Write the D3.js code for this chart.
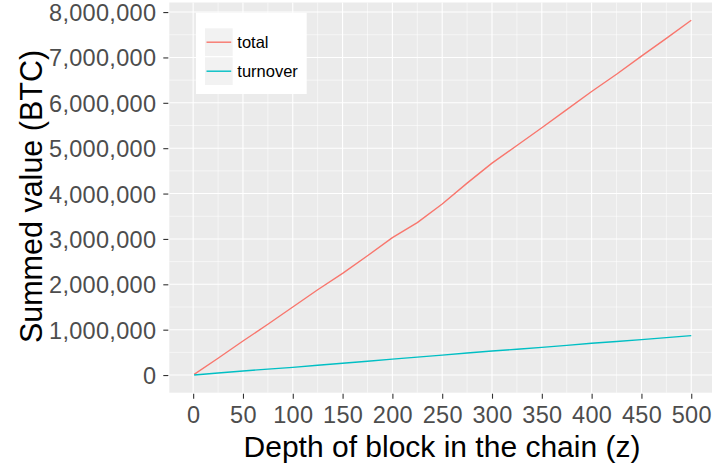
<!DOCTYPE html>
<html><head><meta charset="utf-8">
<script src="https://cdn.jsdelivr.net/npm/d3@7"></script>
<style>body{margin:0;background:#fff}svg{display:block}text{font-family:"Liberation Sans",Arial,sans-serif}</style>
</head><body><svg id="c" width="712" height="466"></svg>
<script>
const depth = [1,25,50,75,100,125,150,175,200,225,250,275,300,325,350,375,400,425,450,475,500];
const totalValues = [15000,370000,750000,1120000,1500000,1880000,2240000,2630000,3030000,3360000,3770000,4230000,4670000,5060000,5450000,5850000,6250000,6630000,7030000,7420000,7820000];
const turnoverValues = [2000,45000,90000,130000,170000,215000,260000,305000,350000,395000,440000,485000,530000,570000,610000,655000,700000,740000,780000,825000,870000];
const seriesNames = ["total","turnover"];
const seriesColors = ["#F8766D","#00BFC4"];
const xTicks = [0,50,100,150,200,250,300,350,400,450,500];
const yTicks = [0,1000000,2000000,3000000,4000000,5000000,6000000,7000000,8000000];
const xTitle = "Depth of block in the chain (z)";
const yTitle = "Summed value (BTC)";

const svg = d3.select("#c");
const P = {left:169.3, right:716.1, top:2.5, bottom:392.7};
const xmin = d3.min(depth), xmax = d3.max(depth);
const allY = totalValues.concat(turnoverValues);
const ymin = d3.min(allY), ymax = d3.max(allY);
const xr = xmax - xmin, yr = ymax - ymin;
const x = d3.scaleLinear().domain([xmin-0.05*xr, xmax+0.05*xr]).range([P.left,P.right]);
const y = d3.scaleLinear().domain([ymin-0.05*yr, ymax+0.05*yr]).range([P.bottom,P.top]);

svg.append("rect").attr("x",P.left).attr("y",P.top).attr("width",P.right-P.left).attr("height",P.bottom-P.top).attr("fill","#EBEBEB");
const g = svg.append("g");
const xMinor = d3.range(-25, 550, 50).filter(v=>x(v)>=P.left&&x(v)<=P.right);
const yMinor = d3.range(-500000, 9000000, 1000000).filter(v=>y(v)>=P.top&&y(v)<=P.bottom);
g.selectAll(".xm").data(xMinor).join("line").attr("x1",d=>x(d)).attr("x2",d=>x(d)).attr("y1",P.top).attr("y2",P.bottom).attr("stroke","#fff").attr("stroke-width",0.55);
g.selectAll(".ym").data(yMinor).join("line").attr("y1",d=>y(d)).attr("y2",d=>y(d)).attr("x1",P.left).attr("x2",P.right).attr("stroke","#fff").attr("stroke-width",0.55);
g.selectAll(".xM").data(xTicks).join("line").attr("x1",d=>x(d)).attr("x2",d=>x(d)).attr("y1",P.top).attr("y2",P.bottom).attr("stroke","#fff").attr("stroke-width",1.1);
g.selectAll(".yM").data(yTicks).join("line").attr("y1",d=>y(d)).attr("y2",d=>y(d)).attr("x1",P.left).attr("x2",P.right).attr("stroke","#fff").attr("stroke-width",1.1);

const series = [totalValues, turnoverValues];
const line = d3.line().x((d,i)=>x(depth[i])).y(d=>y(d));
series.forEach((s,k)=>{
  svg.append("path").datum(s).attr("d",line).attr("fill","none").attr("stroke",seriesColors[k]).attr("stroke-width",1.4).attr("stroke-linejoin","round");
});

const fmt = d3.format(",");
const yAxis = d3.axisLeft(y).tickValues(yTicks).tickFormat(fmt).tickSize(5).tickPadding(7);
const ya = svg.append("g").attr("transform",`translate(${P.left-1},0)`).call(yAxis);
const xAxis = d3.axisBottom(x).tickValues(xTicks).tickSize(5).tickPadding(8);
const xa = svg.append("g").attr("transform",`translate(0,${P.bottom+1})`).call(xAxis);
[ya,xa].forEach(a=>{
  a.select(".domain").remove();
  a.selectAll(".tick line").attr("stroke","#333").attr("stroke-width",1.1);
  a.selectAll(".tick text").attr("fill","#4D4D4D").attr("font-size","23.5px").attr("letter-spacing","0.3px").attr("font-family","Liberation Sans, Arial, sans-serif");
});
ya.selectAll(".tick text").attr("dy","0.36em");
xa.selectAll(".tick text").attr("dy","0.71em");

svg.append("text").attr("x",442).attr("y",456.5).attr("text-anchor","middle").attr("font-size","30px").attr("fill","#000").text(xTitle);
svg.append("text").attr("transform",`translate(42,196.5) rotate(-90)`).attr("text-anchor","middle").attr("font-size","30.5px").attr("fill","#000").text(yTitle);

const L = svg.append("g");
L.append("rect").attr("x",196).attr("y",12.7).attr("width",110.7).attr("height",81.3).attr("fill","#fff");
seriesNames.forEach((n,k)=>{
  const ky = 28.3 + k*29;
  L.append("rect").attr("x",205).attr("y",ky).attr("width",27.7).attr("height",27.7).attr("fill","#F2F2F2");
  L.append("line").attr("x1",206.5).attr("x2",231.2).attr("y1",ky+13.9).attr("y2",ky+13.9).attr("stroke",seriesColors[k]).attr("stroke-width",1.4);
  L.append("text").attr("x",237.3).attr("y",ky+19.5).attr("font-size","16.5px").attr("fill","#000").text(n);
});
</script></body></html>
